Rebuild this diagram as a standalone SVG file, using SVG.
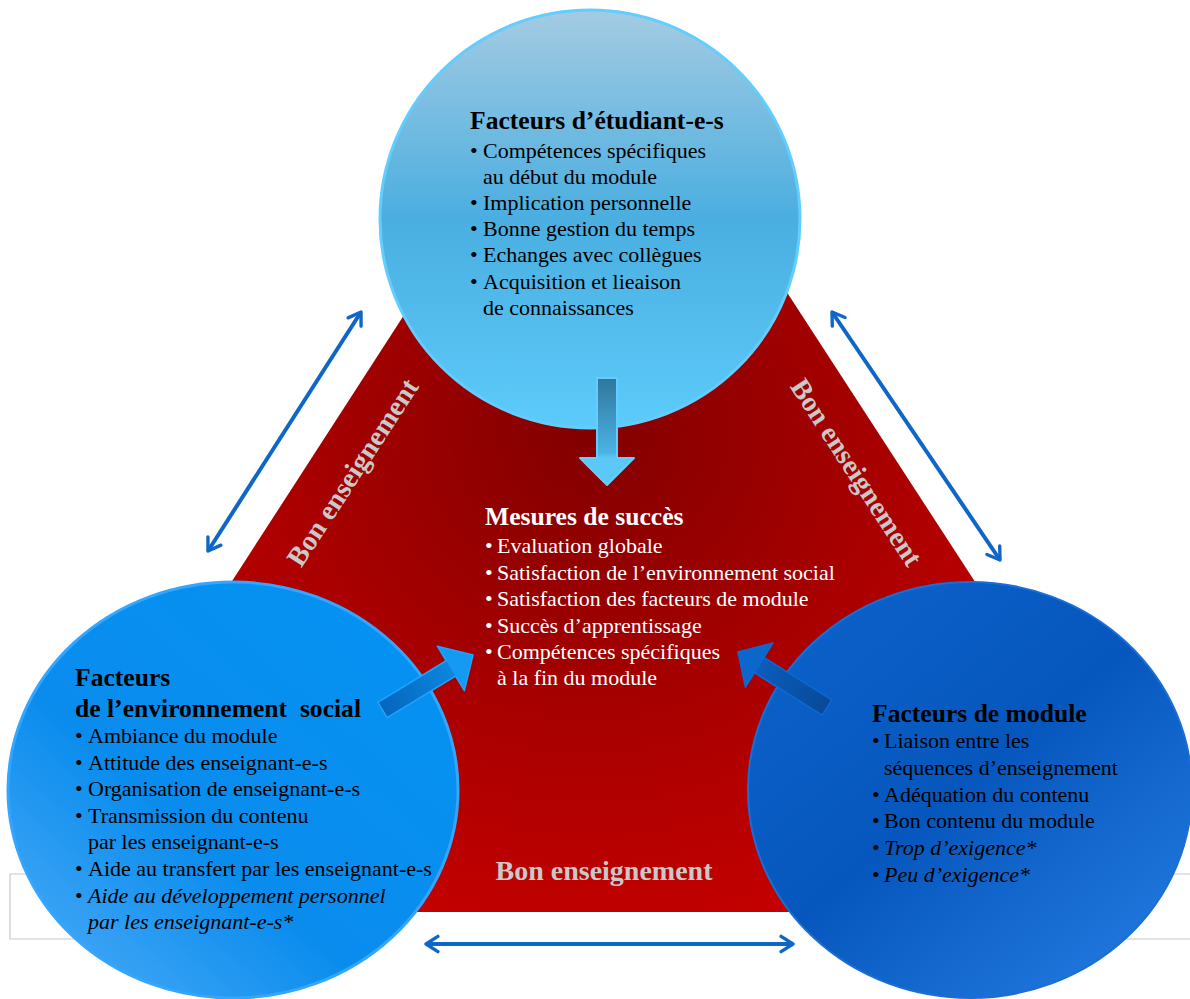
<svg xmlns="http://www.w3.org/2000/svg" width="1190" height="999" viewBox="0 0 1190 999">
  <style>
    text { font-family: "Liberation Serif", "Times New Roman", serif; }
    .title { font-size: 25.6px; font-weight: bold; fill: #000; }
    .item { font-size: 22px; fill: #000; }
    .it { font-style: italic; }
    .w { fill: #fff; }
    .label { font-size: 28px; font-weight: bold; fill: #c9c9c9; text-anchor: middle; }
    .link { stroke: #0d66c8; stroke-width: 4; fill: none; marker-start: url(#chev); marker-end: url(#chev); }
    .frame { stroke: #c8c8c8; stroke-width: 1.2; fill: none; }
  </style>
  <defs>
    <radialGradient id="redFill" gradientUnits="userSpaceOnUse" cx="590" cy="430" r="520">
      <stop offset="0" stop-color="#820000"/>
      <stop offset="0.55" stop-color="#a80000"/>
      <stop offset="1" stop-color="#c40000"/>
    </radialGradient>
    <linearGradient id="topFill" x1="0" y1="0" x2="0" y2="1">
      <stop offset="0" stop-color="#a4cbe2"/>
      <stop offset="0.5" stop-color="#4aaee0"/>
      <stop offset="1" stop-color="#5ccbfb"/>
    </linearGradient>
    <linearGradient id="leftFill" x1="0.9" y1="0.1" x2="0.1" y2="0.95">
      <stop offset="0" stop-color="#0592f2"/>
      <stop offset="0.6" stop-color="#0a8ced"/>
      <stop offset="1" stop-color="#45a8f6"/>
    </linearGradient>
    <linearGradient id="rightFill" x1="0.15" y1="0.1" x2="0.9" y2="0.95">
      <stop offset="0" stop-color="#0b60c8"/>
      <stop offset="0.45" stop-color="#0657bd"/>
      <stop offset="1" stop-color="#237ae0"/>
    </linearGradient>
    <linearGradient id="downArrow" x1="0" y1="0" x2="0" y2="1">
      <stop offset="0" stop-color="#2f769c"/>
      <stop offset="0.7" stop-color="#4cb2e6"/>
      <stop offset="0.75" stop-color="#5cc8f8"/>
      <stop offset="1" stop-color="#5cc8f8"/>
    </linearGradient>
    <linearGradient id="leftArrow" x1="0" y1="0" x2="1" y2="0">
      <stop offset="0" stop-color="#0665bd"/>
      <stop offset="0.75" stop-color="#0c86de"/>
      <stop offset="0.76" stop-color="#159af4"/>
      <stop offset="1" stop-color="#159af4"/>
    </linearGradient>
    <linearGradient id="rightArrow" x1="0" y1="0" x2="1" y2="0">
      <stop offset="0" stop-color="#074a98"/>
      <stop offset="0.75" stop-color="#0a5cbc"/>
      <stop offset="0.76" stop-color="#0b67cc"/>
      <stop offset="1" stop-color="#0b67cc"/>
    </linearGradient>
    <marker id="chev" viewBox="0 0 12 14" refX="10" refY="7" markerWidth="4.2" markerHeight="4.9" orient="auto-start-reverse" markerUnits="strokeWidth">
      <path d="M1.5,1.5 L10,7 L1.5,12.5" fill="none" stroke="#0d66c8" stroke-width="2.4" stroke-linecap="round" stroke-linejoin="round"/>
    </marker>
  </defs>

  <rect width="1190" height="999" fill="#fff"/>

  <!-- thin frame lines behind the layout -->
  <path class="frame" d="M60,874 H10 V939 H120"/>
  <path class="frame" d="M1150,874 H1190 M1100,939 H1190"/>

  <!-- central triangle, corners tucked under the circles -->
  <g id="triangle">
    <polygon points="543,100 662,100 1057,708 900,912 300,912 150,708" fill="url(#redFill)"/>
    <text class="label" x="604" y="880">Bon enseignement</text>
    <text class="label" transform="translate(352,472) rotate(-57)" y="10">Bon enseignement</text>
    <text class="label" transform="translate(857,472) rotate(57)" y="10">Bon enseignement</text>
  </g>

  <!-- links between the outer nodes -->
  <g id="connectors">
    <line class="link" x1="208" y1="551" x2="361" y2="312"/>
    <line class="link" x1="832" y1="312" x2="1000" y2="560"/>
    <line class="link" x1="426" y1="944" x2="793" y2="944"/>
  </g>

  <!-- student factors -->
  <g id="node-etudiants">
    <ellipse cx="590" cy="219" rx="210" ry="209" fill="url(#topFill)" stroke="#62cdff" stroke-width="3"/>
    <text class="title" x="470" y="129">Facteurs d’étudiant-e-s</text>
    <text class="item" x="470" y="158">•</text><text class="item" x="483" y="158">Compétences spécifiques</text>
    <text class="item" x="483" y="184">au début du module</text>
    <text class="item" x="470" y="210">•</text><text class="item" x="483" y="210">Implication personnelle</text>
    <text class="item" x="470" y="236">•</text><text class="item" x="483" y="236">Bonne gestion du temps</text>
    <text class="item" x="470" y="262">•</text><text class="item" x="483" y="262">Echanges avec collègues</text>
    <text class="item" x="470" y="289">•</text><text class="item" x="483" y="289">Acquisition et lieaison</text>
    <text class="item" x="483" y="315">de connaissances</text>
  </g>

  <!-- social environment factors -->
  <g id="node-environnement">
    <ellipse cx="233" cy="790" rx="225" ry="208" fill="url(#leftFill)" stroke="#33a6ff" stroke-width="3"/>
    <text class="title" x="75" y="686">Facteurs</text>
    <text class="title" x="75" y="717" style="white-space:pre">de l’environnement  social</text>
    <text class="item" x="75" y="743">•</text><text class="item" x="88" y="743">Ambiance du module</text>
    <text class="item" x="75" y="770">•</text><text class="item" x="88" y="770">Attitude des enseignant-e-s</text>
    <text class="item" x="75" y="796">•</text><text class="item" x="88" y="796">Organisation de enseignant-e-s</text>
    <text class="item" x="75" y="823">•</text><text class="item" x="88" y="823">Transmission du contenu</text>
    <text class="item" x="88" y="849">par les enseignant-e-s</text>
    <text class="item" x="75" y="876">•</text><text class="item" x="88" y="876">Aide au transfert par les enseignant-e-s</text>
    <text class="item" x="75" y="903">•</text><text class="item it" x="88" y="903">Aide au développement personnel</text>
    <text class="item it" x="88" y="929">par les enseignant-e-s*</text>
  </g>

  <!-- module factors -->
  <g id="node-module">
    <ellipse cx="970" cy="790" rx="222" ry="208" fill="url(#rightFill)" stroke="#1a6fd6" stroke-width="2"/>
    <text class="title" x="872" y="722">Facteurs de module</text>
    <text class="item" x="872" y="748">•</text><text class="item" x="884" y="748">Liaison entre les</text>
    <text class="item" x="884" y="775">séquences d’enseignement</text>
    <text class="item" x="872" y="802">•</text><text class="item" x="884" y="802">Adéquation du contenu</text>
    <text class="item" x="872" y="828">•</text><text class="item" x="884" y="828">Bon contenu du module</text>
    <text class="item" x="872" y="855">•</text><text class="item it" x="884" y="855">Trop d’exigence*</text>
    <text class="item" x="872" y="882">•</text><text class="item it" x="884" y="882">Peu d’exigence*</text>
  </g>

  <!-- block arrows feeding the success measures -->
  <g id="flow-arrows">
    <polygon points="597,378 617,378 617,458 634,458 607,485 580,458 597,458" fill="url(#downArrow)" stroke="#62cdff" stroke-width="2" stroke-linejoin="round"/>
    <polygon transform="translate(382.5,710) rotate(-31.3)" points="0,-9 80,-9 80,-26 106,0 80,26 80,9 0,9" fill="url(#leftArrow)" stroke="#22a2ff" stroke-width="1.5" stroke-linejoin="round"/>
    <polygon transform="translate(827,707.5) rotate(-148)" points="0,-9 80,-9 80,-26 105,0 80,26 80,9 0,9" fill="url(#rightArrow)" stroke="#0d6ad2" stroke-width="1.5" stroke-linejoin="round"/>
  </g>

  <!-- success measures -->
  <g id="node-succes">
    <text class="title w" x="485" y="525">Mesures de succès</text>
    <text class="item w" x="485" y="553">•</text><text class="item w" x="497" y="553">Evaluation globale</text>
    <text class="item w" x="485" y="580">•</text><text class="item w" x="497" y="580">Satisfaction de l’environnement social</text>
    <text class="item w" x="485" y="606">•</text><text class="item w" x="497" y="606">Satisfaction des facteurs de module</text>
    <text class="item w" x="485" y="633">•</text><text class="item w" x="497" y="633">Succès d’apprentissage</text>
    <text class="item w" x="485" y="659">•</text><text class="item w" x="497" y="659">Compétences spécifiques</text>
    <text class="item w" x="497" y="685">à la fin du module</text>
  </g>
</svg>
